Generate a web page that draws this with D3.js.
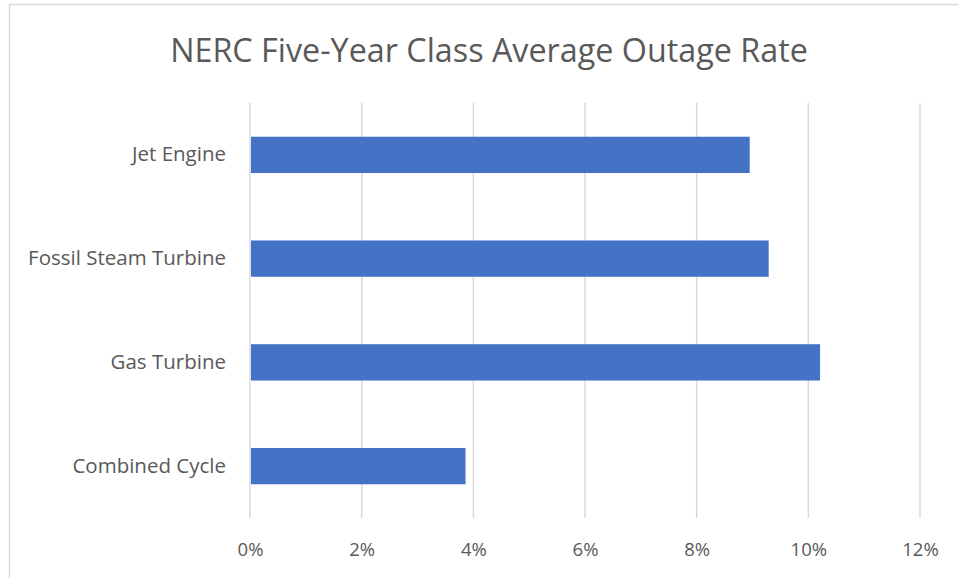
<!DOCTYPE html>
<html>
<head>
<meta charset="utf-8">
<script src="https://cdn.jsdelivr.net/npm/d3@7/dist/d3.min.js"></script>
<style>
  body { margin: 0; background: #fff; }
  text { font-family: "Open Sans", "Noto Sans", sans-serif; fill: #595959; }
</style>
</head>
<body>
<svg id="chart" width="958" height="578"></svg>
<script>
// data
const categories = ['Jet Engine', 'Fossil Steam Turbine', 'Gas Turbine', 'Combined Cycle'];
const outageRates = [0.0895, 0.0929, 0.1021, 0.0386];
const xTicks = [0, 0.02, 0.04, 0.06, 0.08, 0.10, 0.12];
const title = 'NERC Five-Year Class Average Outage Rate';

const barColor = '#4472C4';
const gridColor = '#D9D9D9';

const svg = d3.select('#chart');
const width = +svg.attr('width');
const height = +svg.attr('height');

// chart frame, runs off the right and bottom edges
svg.append('rect')
  .attr('x', 9.5)
  .attr('y', 4.5)
  .attr('width', width)
  .attr('height', height)
  .attr('fill', '#fff')
  .attr('stroke', '#D9D9D9')
  .attr('stroke-width', 1.5);

const margin = { top: 103, right: 38, bottom: 60, left: 250 };
const innerW = 920 - margin.left;
const innerH = 518 - margin.top;

const x = d3.scaleLinear().domain([0, 0.12]).range([0, innerW]);
const y = d3.scaleBand()
  .domain(categories)
  .range([0, innerH])
  .paddingInner(0.65)
  .paddingOuter(0.325);

const g = svg.append('g')
  .attr('transform', `translate(${margin.left}, ${margin.top})`);

// vertical gridlines
g.selectAll('line.grid')
  .data(xTicks)
  .enter()
  .append('line')
  .attr('class', 'grid')
  .attr('x1', (d) => x(d))
  .attr('x2', (d) => x(d))
  .attr('y1', 0)
  .attr('y2', innerH)
  .attr('stroke', gridColor)
  .attr('stroke-width', 1.5);

g.selectAll('rect.bar')
  .data(outageRates)
  .enter()
  .append('rect')
  .attr('class', 'bar')
  .attr('x', x(0) + 1)
  .attr('y', (d, i) => y(categories[i]))
  .attr('width', (d) => x(d) - x(0) - 1)
  .attr('height', y.bandwidth())
  .attr('fill', barColor);

// x axis labels
const xAxis = g.append('g')
  .attr('transform', `translate(0, ${innerH})`)
  .call(d3.axisBottom(x).tickValues(xTicks).tickFormat(d3.format('.0%')).tickSize(0).tickPadding(25));
xAxis.select('.domain').remove();
xAxis.selectAll('text')
  .style('font-size', '18.5px')
  .attr('fill', '#595959');

// category labels
const yAxis = g.append('g')
  .call(d3.axisLeft(y).tickSize(0).tickPadding(24));
yAxis.select('.domain').remove();
yAxis.selectAll('text')
  .style('font-size', '20.5px')
  .attr('fill', '#595959');

svg.append('text')
  .attr('x', 489)
  .attr('y', 62)
  .attr('text-anchor', 'middle')
  .style('font-size', '32.3px')
  .text(title);
</script>
</body>
</html>
